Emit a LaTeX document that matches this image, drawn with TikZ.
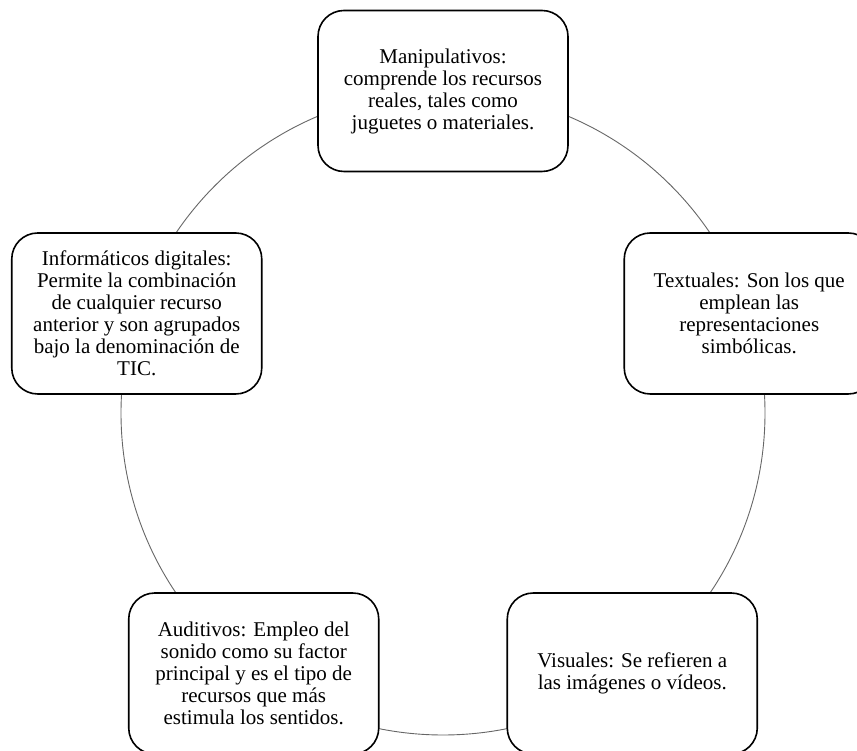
\documentclass[tikz,border=0pt]{standalone}
\usepackage{fontspec}
\setmainfont{Liberation Serif}
\usetikzlibrary{calc}
\begin{document}
\begin{tikzpicture}[x=1pt,y=1pt,
  itembox/.style={draw=black, line width=1.6pt, fill=white, rounded corners=26pt,
    minimum width=250pt, minimum height=161pt, align=center, inner sep=2pt,
    font=\fontsize{21}{22}\selectfont},
  ring/.style={draw=black!60, line width=0.9pt}]
\useasboundingbox (0,0) rectangle (857,750);
\clip (0,0) rectangle (857,750);
\coordinate (c) at (443,337);
\draw[ring] (c) circle[radius=322];
\node[itembox] (man) at ($(c)+(90:322)$) {Manipulativos:\\comprende los recursos\\reales, tales como\\juguetes o materiales.};
\node[itembox] (inf) at ($(c)+(162:322)$) {Informáticos digitales:\\Permite la combinación\\de cualquier recurso\\anterior y son agrupados\\bajo la denominación de\\TIC.};
\node[itembox] (tex) at ($(c)+(18:322)$) {Textuales: Son los que\\emplean las\\representaciones\\simbólicas.};
\node[itembox] (aud) at ($(c)+(234:322)$) {Auditivos: Empleo del\\sonido como su factor\\principal y es el tipo de\\recursos que más\\estimula los sentidos.};
\node[itembox] (vis) at ($(c)+(306:322)$) {Visuales: Se refieren a\\las imágenes o vídeos.};
\end{tikzpicture}
\end{document}
